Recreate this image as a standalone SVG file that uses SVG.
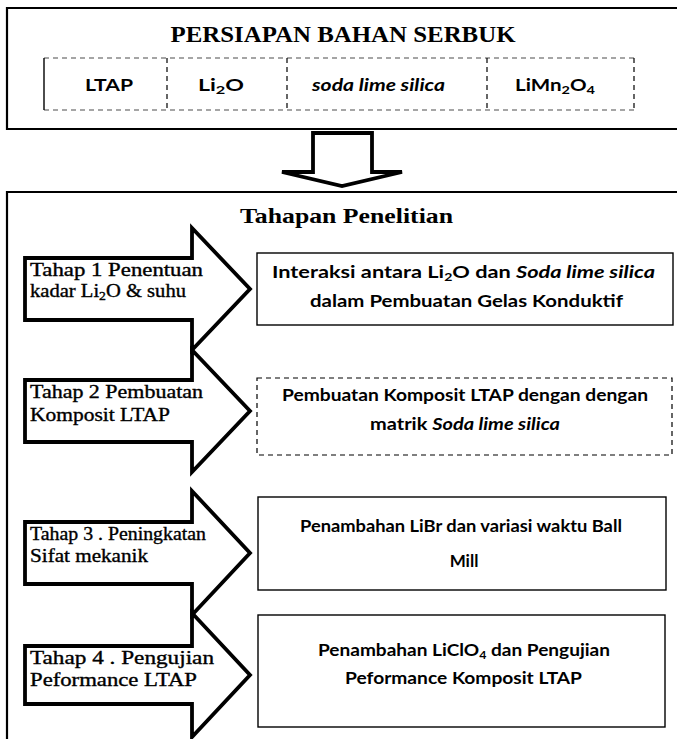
<svg xmlns="http://www.w3.org/2000/svg" width="677" height="739" viewBox="0 0 677 739">
<style>
.frame{fill:none;stroke:#000;stroke-width:2.2}
.dash{fill:none;stroke:#000;stroke-width:1.2;stroke-dasharray:5 4}
.solid{fill:none;stroke:#000;stroke-width:1.4}
.arrow{fill:#fff;stroke:#000;stroke-width:3.8;stroke-linejoin:miter}
.title{font-family:"Liberation Serif","Times New Roman",serif;font-weight:700;fill:#000}
.serif{font-family:"Liberation Serif","Times New Roman",serif;font-size:18px;fill:#000;stroke:#000;stroke-width:0.35}
.sans{font-family:Lato,"Open Sans","Liberation Sans",sans-serif;font-weight:700;font-size:17px;fill:#000}
.it{font-style:italic}
</style>
<rect width="677" height="739" fill="#fff"/>

<g id="persiapan">
<path class="frame" d="M680,8 H7 V129 H680"/>
<text class="title" x="343" y="42" font-size="23" text-anchor="middle" textLength="345" lengthAdjust="spacingAndGlyphs">PERSIAPAN BAHAN SERBUK</text>
<path class="dash" d="M44,58 H634 M44,110 H634" stroke-opacity="0.7"/>
<path class="solid" d="M44,58 V110"/>
<path class="dash" d="M167,58 V110 M287,58 V110 M487,58 V110 M634,58 V110"/>
<text class="sans" x="85" y="91" font-size="18" textLength="48" lengthAdjust="spacingAndGlyphs">LTAP</text>
<text class="sans" x="198" y="91" font-size="18" textLength="46" lengthAdjust="spacingAndGlyphs">Li<tspan font-size="12" dy="3">2</tspan><tspan dy="-3">O</tspan></text>
<text class="sans it" x="312" y="91" font-size="18" font-weight="400" textLength="133" lengthAdjust="spacingAndGlyphs">soda lime silica</text>
<text class="sans" x="515" y="91" font-size="18" textLength="80" lengthAdjust="spacingAndGlyphs">LiMn<tspan font-size="12" dy="3">2</tspan><tspan dy="-3">O</tspan><tspan font-size="12" dy="3">4</tspan></text>
</g>

<g id="connectors">
<path class="arrow" stroke-width="2.5" d="M313,133 H372 V172 H402 L342,186 L282,172 H313 Z"/>
</g>

<g id="tahapan">
<path class="frame" d="M680,192 H7 V745"/>
<text class="title" x="240" y="223" font-size="21" textLength="213" lengthAdjust="spacingAndGlyphs">Tahapan Penelitian</text>
</g>

<g id="tahap1">
<polygon class="arrow" points="25,258 192,258 192,228 250,289 192,350 192,320 25,320"/>
<text class="serif" x="30" y="276" textLength="173" lengthAdjust="spacingAndGlyphs">Tahap 1 Penentuan</text>
<text class="serif" x="30" y="297" textLength="156" lengthAdjust="spacingAndGlyphs">kadar Li<tspan font-size="12" dy="3">2</tspan><tspan dy="-3">O &amp; suhu</tspan></text>
</g>
<g id="hasil1">
<rect class="solid" x="257" y="253" width="416" height="72"/>
<text class="sans" x="272" y="278" textLength="383" lengthAdjust="spacingAndGlyphs">Interaksi antara Li<tspan font-size="11" dy="3">2</tspan><tspan dy="-3">O dan </tspan><tspan class="it">Soda lime silica</tspan></text>
<text class="sans" x="310" y="307" textLength="313" lengthAdjust="spacingAndGlyphs">dalam Pembuatan Gelas Konduktif</text>
</g>

<g id="tahap2">
<polygon class="arrow" points="25,380 192,380 192,350 250,411 192,472 192,442 25,442"/>
<text class="serif" x="30" y="398" textLength="173" lengthAdjust="spacingAndGlyphs">Tahap 2 Pembuatan</text>
<text class="serif" x="30" y="421" textLength="140" lengthAdjust="spacingAndGlyphs">Komposit LTAP</text>
</g>
<g id="hasil2">
<rect class="dash" x="257" y="378" width="415" height="77"/>
<text class="sans" x="282" y="401" textLength="366" lengthAdjust="spacingAndGlyphs">Pembuatan Komposit LTAP dengan dengan</text>
<text class="sans" x="370" y="430" textLength="190" lengthAdjust="spacingAndGlyphs">matrik <tspan class="it">Soda lime silica</tspan></text>
</g>

<g id="tahap3">
<polygon class="arrow" points="25,522 192,522 192,491 250,553 192,615 192,584 25,584"/>
<text class="serif" x="30" y="540" textLength="176" lengthAdjust="spacingAndGlyphs">Tahap 3 . Peningkatan</text>
<text class="serif" x="30" y="562" textLength="118" lengthAdjust="spacingAndGlyphs">Sifat mekanik</text>
</g>
<g id="hasil3">
<rect class="solid" x="258" y="497" width="408" height="93"/>
<text class="sans" x="300" y="532" textLength="322" lengthAdjust="spacingAndGlyphs">Penambahan LiBr  dan variasi waktu Ball</text>
<text class="sans" x="464" y="567" text-anchor="middle">Mill</text>
</g>

<g id="tahap4">
<polygon class="arrow" points="25,646 192,646 192,613 250,675 192,737 192,704 25,704"/>
<text class="serif" x="30" y="664" textLength="184" lengthAdjust="spacingAndGlyphs">Tahap 4 . Pengujian</text>
<text class="serif" x="30" y="686" textLength="167" lengthAdjust="spacingAndGlyphs">Peformance LTAP</text>
</g>
<g id="hasil4">
<rect class="solid" x="258" y="615" width="407" height="112"/>
<text class="sans" x="318" y="656" textLength="292" lengthAdjust="spacingAndGlyphs">Penambahan LiClO<tspan font-size="11" dy="3">4</tspan><tspan dy="-3"> dan Pengujian</tspan></text>
<text class="sans" x="345" y="684" textLength="237" lengthAdjust="spacingAndGlyphs">Peformance Komposit LTAP</text>
</g>
</svg>
